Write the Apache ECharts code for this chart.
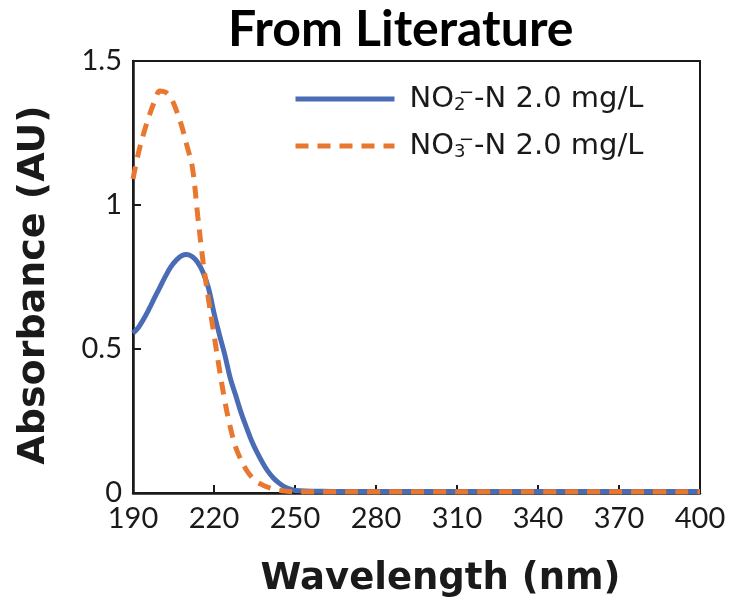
<!DOCTYPE html>
<html>
<head>
<meta charset="utf-8">
<script src="https://cdn.jsdelivr.net/npm/echarts@6/dist/echarts.min.js"></script>
<style>
html,body{margin:0;padding:0;background:#fff;}
#c{width:735px;height:610px;}
</style>
</head>
<body>
<div id="c"></div>
<script>
const titleText = 'From Literature';
const xAxisName = 'Wavelength (nm)';
const yAxisName = 'Absorbance (AU)';
const xTicks = [190, 220, 250, 280, 310, 340, 370, 400];
const yTicks = [0, 0.5, 1, 1.5];
const seriesNames = ['NO2-N 2.0 mg/L', 'NO3-N 2.0 mg/L'];
const wavelengths = [190,192,194,196,198,200,202,204,206,208,210,212,214,216,218,220,222,224,226,228,230,232,234,236,238,240,242,244,246,248,250,260,280,300,320,340,360,380,400];
const no2Values = [0.555,0.575,0.605,0.640,0.678,0.715,0.752,0.785,0.808,0.824,0.828,0.820,0.800,0.765,0.710,0.625,0.550,0.480,0.400,0.340,0.280,0.228,0.180,0.140,0.105,0.075,0.052,0.035,0.022,0.014,0.009,0.006,0.005,0.005,0.005,0.005,0.005,0.005,0.005];
const no3Values = [1.090,1.180,1.250,1.310,1.360,1.396,1.392,1.372,1.330,1.275,1.205,1.130,0.960,0.800,0.670,0.550,0.430,0.320,0.230,0.160,0.115,0.080,0.055,0.038,0.028,0.020,0.014,0.010,0.007,0.005,0.004,0.004,0.004,0.004,0.004,0.004,0.004,0.004,0.004];

const chart = echarts.init(document.getElementById('c'));
const pairs = (vals) => wavelengths.map((w, i) => [w, vals[i]]);
const tickFont = 'Lato';
const legFont = 'DejaVu Sans';
const nameFont = 'DejaVu Sans';
chart.setOption({
  animation: false,
  backgroundColor: '#fff',
  title: {
    text: titleText, left: 223, top: 0,
    textStyle: {fontFamily: 'Lato', fontWeight: 'bold', fontSize: 50, color: '#000'}
  },
  grid: {left: 133, right: 35, top: 61, bottom: 117, show: true, borderColor: '#1a1a1a', borderWidth: 2},
  legend: {
    orient: 'vertical', left: 293, top: 82, padding: 0, itemWidth: 99, itemHeight: 14, itemGap: 13,
    data: seriesNames,
    itemStyle: {opacity: 0},
    lineStyle: {width: 5},
    formatter: function (name) {
      const n = name.indexOf('NO2') === 0 ? '2' : '3';
      return '{a|NO}{sub|' + n + '}{sup|\u2212}{a|-N 2.0 mg/L}';
    },
    textStyle: {
      fontFamily: legFont, fontSize: 29, color: '#1a1a1a', padding: [0,0,0,10],
      rich: {
        a: {fontFamily: legFont, fontSize: 29, color: '#1a1a1a', lineHeight: 30, verticalAlign: 'middle'},
        sub: {fontFamily: legFont, fontSize: 18, color: '#1a1a1a', verticalAlign: 'bottom', lineHeight: 30, padding: [14,0,0,0], width: 5},
        sup: {fontFamily: legFont, fontSize: 18, color: '#1a1a1a', verticalAlign: 'top', lineHeight: 30, padding: [0,0,14,0]}
      }
    }
  },
  xAxis: {
    type: 'value', min: xTicks[0], max: xTicks[xTicks.length - 1], interval: 30,
    name: xAxisName, nameLocation: 'middle', nameGap: 68,
    nameTextStyle: {fontFamily: nameFont, fontWeight: 'bold', fontSize: 37, color: '#1a1a1a', padding: [0,0,0,48]},
    axisLine: {lineStyle: {color: '#1a1a1a', width: 2.5}},
    axisTick: {inside: true, length: 8, lineStyle: {color: '#1a1a1a', width: 2}},
    axisLabel: {fontFamily: tickFont, fontSize: 29, color: '#1a1a1a', margin: 11},
    splitLine: {show: false}
  },
  yAxis: {
    type: 'value', min: yTicks[0], max: yTicks[yTicks.length - 1], interval: 0.5,
    name: yAxisName, nameLocation: 'middle', nameGap: 80,
    nameTextStyle: {fontFamily: nameFont, fontWeight: 'bold', fontSize: 38, color: '#1a1a1a', padding: [0,16,0,0]},
    axisLine: {show: true, lineStyle: {color: '#1a1a1a', width: 2.5}},
    axisTick: {show: true, inside: true, length: 8, lineStyle: {color: '#1a1a1a', width: 2}},
    axisLabel: {fontFamily: tickFont, fontSize: 29, color: '#1a1a1a', margin: 11},
    splitLine: {show: false}
  },
  series: [
    {
      name: seriesNames[0], type: 'line', data: pairs(no2Values), smooth: 0.4, symbol: 'none',
      lineStyle: {color: '#4a6cb4', width: 5}, itemStyle: {color: '#4a6cb4'}, z: 2
    },
    {
      name: seriesNames[1], type: 'line', data: pairs(no3Values), smooth: 0.4, symbol: 'none',
      lineStyle: {color: '#e8772f', width: 5, type: [13, 9]}, itemStyle: {color: '#e8772f'}, z: 3
    }
  ]
});
</script>
</body>
</html>
